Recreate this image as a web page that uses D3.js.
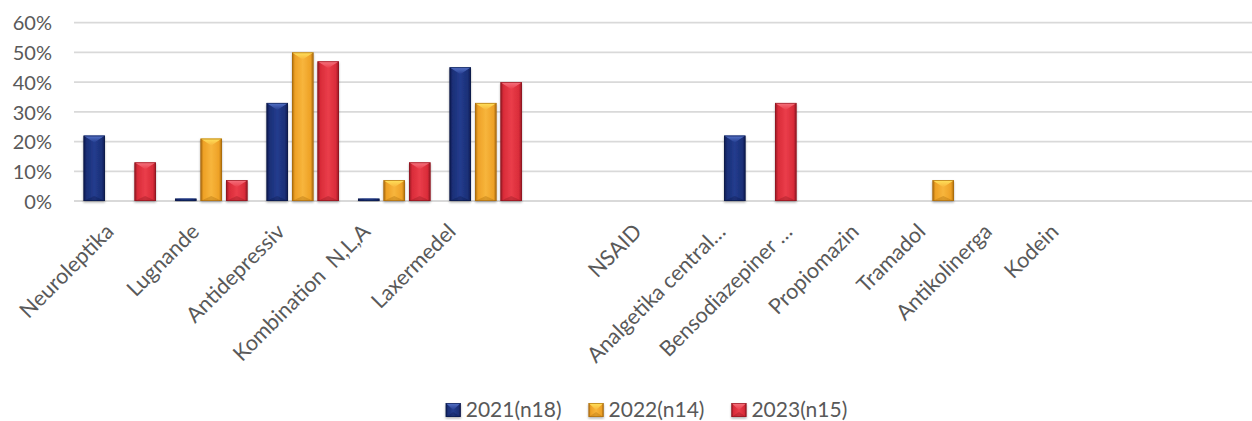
<!DOCTYPE html>
<html>
<head>
<meta charset="utf-8">
<script src="https://cdn.jsdelivr.net/npm/d3@7"></script>
<style>
  html, body { margin: 0; padding: 0; background: #ffffff; overflow: hidden; }
  svg { display: block; font-family: Lato, "Open Sans", sans-serif; }
  text { white-space: pre; }
</style>
</head>
<body>
<svg id="chart" width="1252" height="421"></svg>
<script>
// Share of residents per drug group and year
const categories = [
  "Neuroleptika", "Lugnande", "Antidepressiv", "Kombination  N,L,A", "Laxermedel", "",
  "NSAID", "Analgetika central\u2026", "Bensodiazepiner \u2026", "Propiomazin",
  "Tramadol", "Antikolinerga", "Kodein"
];
const seriesNames = ["2021(n18)", "2022(n14)", "2023(n15)"];
const values2021 = [0.22, 0.008, 0.33, 0.008, 0.45, null, 0, 0.22, 0, 0, 0, 0, 0];
const values2022 = [0, 0.21, 0.50, 0.07, 0.33, null, 0, 0, 0, 0.07, 0, 0, 0];
const values2023 = [0.13, 0.07, 0.47, 0.13, 0.40, null, 0, 0.33, 0, 0, 0, 0, 0];
const yTicks = [0, 0.1, 0.2, 0.3, 0.4, 0.5, 0.6];

const seriesValues = [values2021, values2022, values2023];

// Bevelled bar palettes: edge, body, centre highlight, top facet
const palettes = [
  { edge: "#0d1a4a", body: "#1a2f76", light: "#233c8e", top: "#5673c8" },
  { edge: "#a86a0c", body: "#eea126", light: "#f7b53c", top: "#ffe25c" },
  { edge: "#8e1620", body: "#d92c39", light: "#ea3d4a", top: "#f5737e" }
];

const svg = d3.select("#chart");
const W = 1252;

const plot = { left: 74, top: 22.7, bottom: 201, step: 91.5 };

const x0 = d3.scaleBand()
  .domain(d3.range(categories.length))
  .range([plot.left, plot.left + plot.step * categories.length])
  .padding(0);

const x1 = d3.scaleBand()
  .domain(d3.range(seriesNames.length))
  .range([0, x0.bandwidth()])
  .paddingInner(0.157)
  .paddingOuter(0.373);

const y = d3.scaleLinear().domain([0, 0.6]).range([plot.bottom, plot.top]);

// Rotated category labels sit on their own track below the axis
const labelX = d3.scaleLinear()
  .domain([0, 4, 6, 7, 12])
  .range([115, 457, 643, 727, 1060]);

const defs = svg.append("defs");
palettes.forEach((p, i) => {
  const body = defs.append("linearGradient").attr("id", "body" + i)
    .attr("x1", "0").attr("x2", "1").attr("y1", "0").attr("y2", "0");
  [[0, p.edge], [0.14, p.body], [0.5, p.light], [0.86, p.body], [1, p.edge]]
    .forEach(([o, c]) => body.append("stop").attr("offset", o).attr("stop-color", c));
  const top = defs.append("linearGradient").attr("id", "top" + i)
    .attr("x1", "0").attr("x2", "0").attr("y1", "0").attr("y2", "1");
  [[0, p.top], [1, p.light]]
    .forEach(([o, c]) => top.append("stop").attr("offset", o).attr("stop-color", c));
});
const shadow = defs.append("filter").attr("id", "shadow")
  .attr("x", "-30%").attr("y", "-10%").attr("width", "160%").attr("height", "130%");
shadow.append("feDropShadow").attr("dx", 0).attr("dy", 1.5)
  .attr("stdDeviation", 1.2).attr("flood-color", "#000").attr("flood-opacity", 0.3);

// Gridlines
svg.append("g")
  .selectAll("line")
  .data(yTicks)
  .join("line")
  .attr("x1", plot.left).attr("x2", W)
  .attr("y1", d => y(d)).attr("y2", d => y(d))
  .attr("stroke", "#d9d9d9").attr("stroke-width", 1.8);

// Y axis labels
const yAxis = svg.append("g")
  .attr("transform", `translate(${plot.left - 22},0)`)
  .call(d3.axisLeft(y).tickValues(yTicks).tickFormat(d3.format(".0%")).tickSize(0).tickPadding(0));
yAxis.select(".domain").remove();
yAxis.selectAll("text")
  .attr("font-family", "Lato, 'Open Sans', sans-serif")
  .attr("font-size", 20).attr("fill", "#595959").attr("dy", "0.36em");

function drawBar(g, x, yTop, w, h, i) {
  const p = palettes[i];
  const bar = g.append("g").attr("filter", "url(#shadow)");
  bar.append("rect").attr("x", x).attr("y", yTop).attr("width", w).attr("height", h)
    .attr("fill", `url(#body${i})`);
  const t = Math.min(7, h / 2);
  bar.append("path")
    .attr("d", `M${x},${yTop}L${x + w},${yTop}L${x + w / 2},${yTop + t}Z`)
    .attr("fill", `url(#top${i})`);
  const b = Math.min(5, h / 2);
  bar.append("path")
    .attr("d", `M${x},${yTop + h}L${x + w},${yTop + h}L${x + w / 2},${yTop + h - b}Z`)
    .attr("fill", p.edge).attr("fill-opacity", 0.35);
  bar.append("rect").attr("x", x + 0.4).attr("y", yTop + 0.4)
    .attr("width", w - 0.8).attr("height", Math.max(0, h - 0.8))
    .attr("fill", "none").attr("stroke", p.edge).attr("stroke-width", 0.8).attr("stroke-opacity", 0.8);
}

// Bars
const barsG = svg.append("g");
categories.forEach((c, ci) => {
  seriesValues.forEach((vals, si) => {
    const v = vals[ci];
    if (v == null || v <= 0) return;
    const bx = x0(ci) + x1(si);
    drawBar(barsG, bx, y(v), x1.bandwidth(), y(0) - y(v), si);
  });
});

// Category labels
svg.append("g")
  .selectAll("text")
  .data(categories.map((c, i) => ({ c, i })).filter(d => d.c !== ""))
  .join("text")
  .attr("transform", d => `translate(${labelX(d.i)},233) rotate(-45)`)
  .attr("text-anchor", "end")
  .attr("font-size", 21.5).attr("fill", "#595959")
  .text(d => d.c);

// Legend
const legend = svg.append("g");
const items = legend.selectAll("g").data(seriesNames).join("g");
items.each(function (name, i) {
  const g = d3.select(this);
  drawBar(g, 0, -14, 15, 14, i);
  g.append("text").attr("x", 20).attr("y", 0)
    .attr("font-size", 21).attr("fill", "#595959").text(name);
});
let cursor = 0;
const gap = 27;
items.each(function () {
  const g = d3.select(this);
  g.attr("transform", `translate(${cursor},0)`);
  cursor += 20 + g.select("text").node().getComputedTextLength() + gap;
});
const legendWidth = cursor - gap;
legend.attr("transform", `translate(${646.5 - legendWidth / 2},417)`);
</script>
</body>
</html>
